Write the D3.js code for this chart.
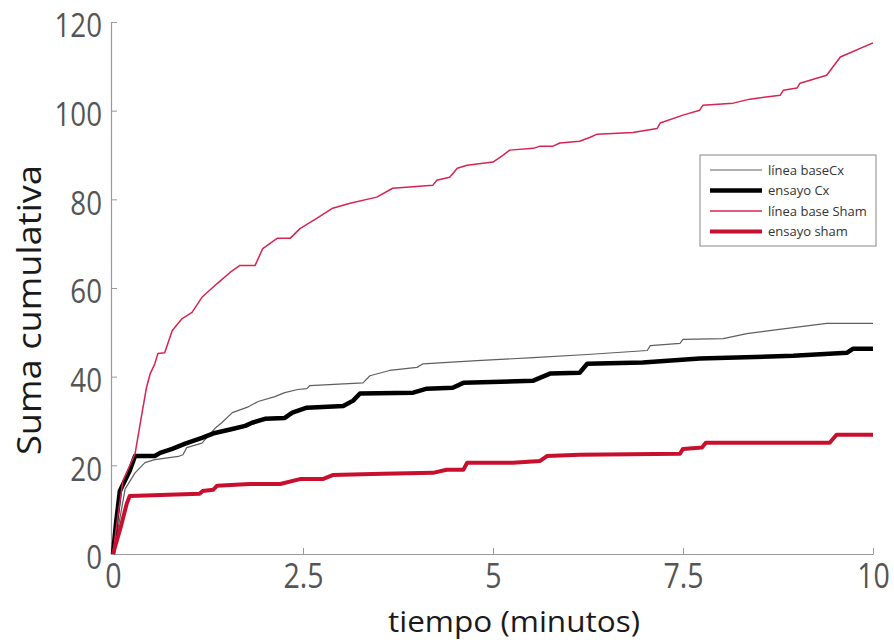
<!DOCTYPE html>
<html>
<head>
<meta charset="utf-8">
<script src="https://cdn.jsdelivr.net/npm/d3@7"></script>
<style>
  body { margin: 0; background: #fff; }
  text { font-family: "Open Sans", sans-serif; }
</style>
</head>
<body>
<div id="chart"></div>
<script>
const width = 894
const height = 642

// tiempo (minutos) / suma cumulativa
const baseCxT = [0, 0.08, 0.16, 0.29, 0.42, 0.55, 0.86, 0.92, 0.97, 1.17, 1.34, 1.43, 1.57, 1.78, 1.91, 2.13, 2.26, 2.43, 2.55, 2.59, 3.29, 3.38, 3.64, 4.0, 4.08, 4.79, 5.53, 6.24, 7.03, 7.07, 7.46, 7.5, 8.03, 8.34, 8.82, 9.39, 10]
const baseCxV = [0, 7, 14.7, 18.3, 20.6, 21.3, 22, 22.4, 24.0, 25.0, 28.3, 29.6, 31.9, 33.2, 34.4, 35.5, 36.4, 37.1, 37.3, 38.0, 38.6, 40.2, 41.4, 42.1, 42.9, 43.6, 44.3, 45, 45.9, 47, 47.5, 48.4, 48.6, 49.7, 50.8, 52, 52]

const ensCxT = [0, 0.04, 0.09, 0.22, 0.29, 0.55, 0.62, 0.78, 0.95, 1.17, 1.34, 1.57, 1.74, 1.83, 2.0, 2.26, 2.36, 2.55, 3.03, 3.16, 3.25, 3.95, 4.13, 4.47, 4.61, 5.53, 5.75, 6.14, 6.24, 6.97, 7.72, 8.95, 9.66, 9.74, 10]
const ensCxV = [0, 7, 14.2, 18.8, 22.1, 22.1, 22.8, 23.7, 24.9, 26.2, 27.3, 28.2, 28.9, 29.6, 30.5, 30.7, 31.9, 33, 33.4, 34.6, 36.2, 36.4, 37.3, 37.5, 38.6, 39.1, 40.7, 40.9, 42.9, 43.2, 44.1, 44.7, 45.4, 46.3, 46.3]

const baseShamT = [0, 0.06, 0.13, 0.29, 0.38, 0.44, 0.49, 0.55, 0.59, 0.68, 0.78, 0.91, 1.04, 1.17, 1.37, 1.54, 1.67, 1.87, 1.97, 2.16, 2.33, 2.46, 2.68, 2.89, 3.12, 3.47, 3.68, 4.21, 4.26, 4.43, 4.53, 4.66, 5.0, 5.13, 5.22, 5.53, 5.62, 5.79, 5.88, 6.14, 6.28, 6.37, 6.84, 7.16, 7.2, 7.5, 7.72, 7.76, 8.16, 8.38, 8.78, 8.82, 9.0, 9.04, 9.39, 9.57, 10]
const baseShamV = [0, 8, 16.5, 22.6, 31.6, 37.5, 40.7, 42.9, 45.2, 45.4, 50.4, 53.1, 54.5, 57.9, 61, 63.5, 65.1, 65.1, 68.9, 71.2, 71.2, 73.4, 75.7, 78, 79.1, 80.5, 82.5, 83.2, 84.3, 85, 87, 87.7, 88.4, 89.9, 91.1, 91.5, 92, 92, 92.7, 93.1, 94, 94.7, 95.1, 96, 97.2, 99, 100.1, 101.2, 101.7, 102.6, 103.5, 104.6, 105.1, 106.2, 108, 112.1, 115.3]

const ensShamT = [0, 0.1, 0.18, 0.22, 1.14, 1.18, 1.32, 1.37, 1.8, 2.2, 2.46, 2.76, 2.89, 3.55, 4.21, 4.39, 4.61, 4.66, 5.26, 5.62, 5.71, 6.14, 7.46, 7.5, 7.75, 7.8, 9.43, 9.52, 10]
const ensShamV = [0, 6, 11.3, 13.1, 13.6, 14.2, 14.5, 15.4, 15.8, 15.8, 16.9, 16.9, 17.8, 18.1, 18.3, 19.0, 19.0, 20.6, 20.6, 21, 22.1, 22.4, 22.6, 23.7, 24.0, 25.1, 25.1, 26.9, 26.9]

const xTicks = [0, 2.5, 5, 7.5, 10]
const yTicks = [0, 20, 40, 60, 80, 100, 120]

const series = [
  { name: "línea baseCx", t: baseCxT, v: baseCxV, color: "#5e5e5e", w: 1.2 },
  { name: "ensayo Cx", t: ensCxT, v: ensCxV, color: "#000000", w: 4.5 },
  { name: "línea base Sham", t: baseShamT, v: baseShamV, color: "#d62450", w: 1.5 },
  { name: "ensayo sham", t: ensShamT, v: ensShamV, color: "#c8102e", w: 4 }
]

const narrow = 0.84

const svg = d3.select("#chart")
  .append("svg")
    .attr("width", width)
    .attr("height", height)

const x = d3.scaleLinear().domain([0, 10]).range([113, 873])
const y = d3.scaleLinear().domain([0, 120]).range([554, 22])

// axes, ticks pointing inward
const xAxis = svg.append("g")
  .attr("transform", "translate(0," + y(0) + ")")
  .call(d3.axisBottom(x).tickValues(xTicks).tickSizeInner(-6).tickSizeOuter(0)
    .tickFormat(d => d))
xAxis.select(".domain").attr("stroke", "#999").attr("stroke-width", 1.2)
xAxis.selectAll(".tick line").attr("stroke", "#999")
xAxis.selectAll(".tick text")
  .attr("y", 10)
  .attr("transform", "scale(" + narrow + ",1)")
  .attr("font-size", 34)
  .attr("fill", "#555")
  .style("font-family", "Open Sans, sans-serif")

const yAxis = svg.append("g")
  .attr("transform", "translate(" + (x(0) - 2) + ",0)")
  .call(d3.axisLeft(y).tickValues(yTicks).tickSizeInner(-6).tickSizeOuter(0))
yAxis.select(".domain").attr("stroke", "#999").attr("stroke-width", 1.2)
yAxis.selectAll(".tick line").attr("stroke", "#999")
yAxis.selectAll(".tick text")
  .attr("x", -9 / narrow)
  .attr("dy", "0.45em")
  .attr("transform", "scale(" + narrow + ",1)")
  .attr("font-size", 33)
  .attr("fill", "#555")
  .style("font-family", "Open Sans, sans-serif")

const line = d3.line()
  .x(d => x(d[0]))
  .y(d => y(d[1]))

series.forEach(s => {
  svg.append("path")
    .datum(s.t.map((t, i) => [t, s.v[i]]))
    .attr("fill", "none")
    .attr("stroke", s.color)
    .attr("stroke-width", s.w)
    .attr("stroke-linejoin", "round")
    .attr("d", line)
})

// axis titles
svg.append("text")
  .attr("x", 388)
  .attr("y", 632)
  .attr("font-size", 30)
  .attr("textLength", 252)
  .attr("lengthAdjust", "spacingAndGlyphs")
  .attr("fill", "#1a1a1a")
  .text("tiempo (minutos)")

svg.append("text")
  .attr("transform", "translate(41,455) rotate(-90)")
  .attr("font-size", 33)
  .attr("textLength", 290)
  .attr("lengthAdjust", "spacingAndGlyphs")
  .attr("fill", "#1a1a1a")
  .text("Suma cumulativa")

// legend
const legend = svg.append("g").attr("transform", "translate(700,155)")
legend.append("rect")
  .attr("width", 176)
  .attr("height", 91)
  .attr("fill", "#fff")
  .attr("stroke", "#888")
  .attr("stroke-width", 1)

series.forEach((s, i) => {
  const yy = 15 + i * 20.5
  legend.append("line")
    .attr("x1", 10).attr("x2", 62)
    .attr("y1", yy).attr("y2", yy)
    .attr("stroke", s.color)
    .attr("stroke-width", s.w)
  legend.append("text")
    .attr("x", 68)
    .attr("y", yy + 4.5)
    .attr("font-size", 13)
    .attr("fill", "#333")
    .text(s.name)
})
</script>
</body>
</html>
